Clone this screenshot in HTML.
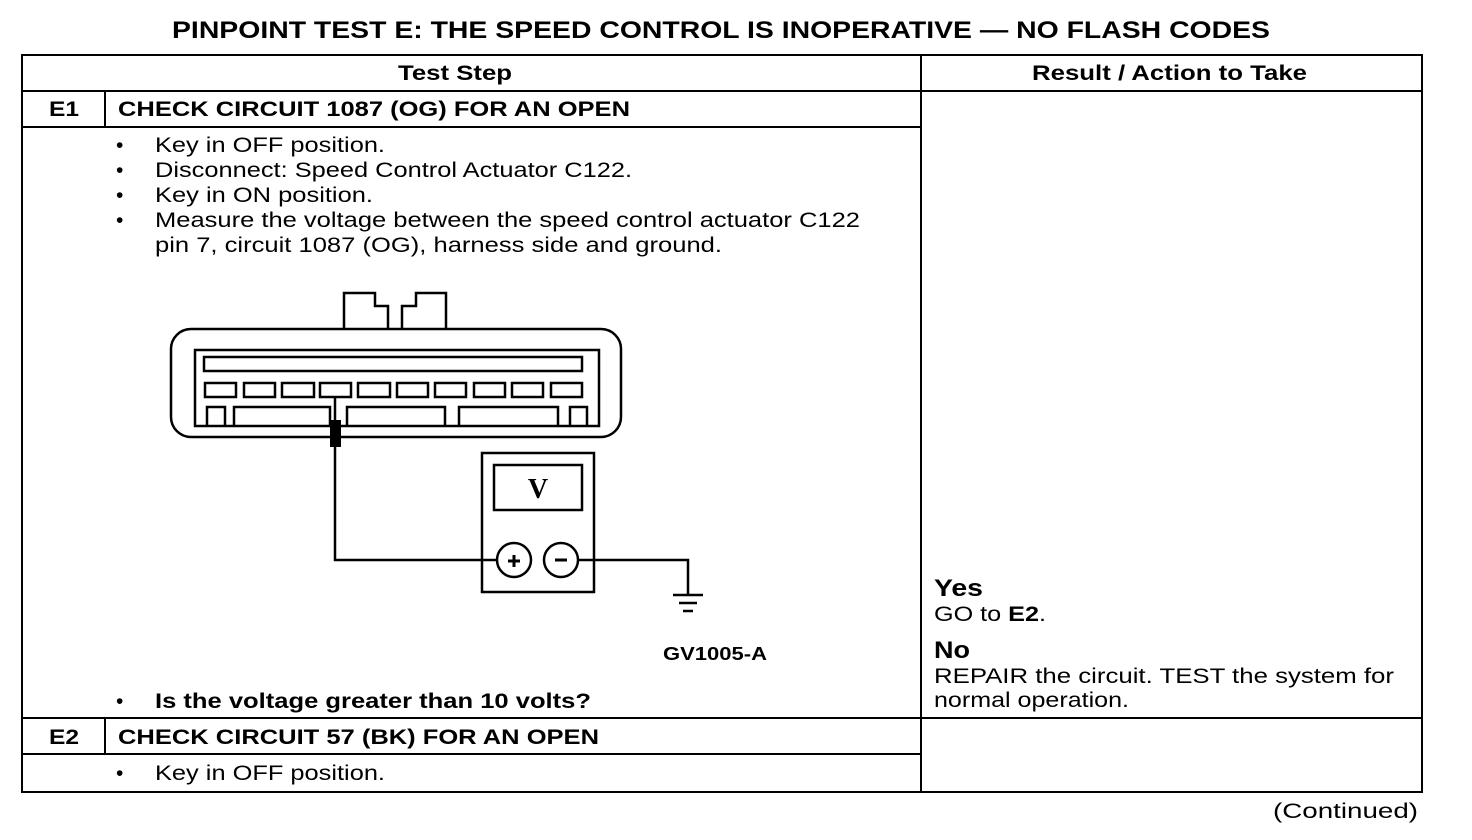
<!DOCTYPE html>
<html><head><style>html,body{margin:0;padding:0;background:#fff}svg{display:block}</style></head>
<body>
<svg width="1472" height="840" viewBox="0 0 1472 840" xmlns="http://www.w3.org/2000/svg" font-family="Liberation Sans, Arial, sans-serif" fill="#000">
<text x="172" y="38" font-size="24" font-weight="bold" textLength="1098" lengthAdjust="spacingAndGlyphs">PINPOINT TEST E: THE SPEED CONTROL IS INOPERATIVE — NO FLASH CODES</text>
<g stroke="#000" stroke-width="2" fill="none">
<rect x="22" y="55" width="1400" height="737"/>
<line x1="22" y1="91" x2="1422" y2="91"/>
<line x1="921" y1="55" x2="921" y2="792"/>
<line x1="22" y1="127" x2="921" y2="127"/>
<line x1="105" y1="91" x2="105" y2="127"/>
<line x1="22" y1="718" x2="1422" y2="718"/>
<line x1="105" y1="718" x2="105" y2="754"/>
<line x1="22" y1="754" x2="921" y2="754"/>
</g>
<g font-size="21" font-weight="bold">
<text x="398" y="80" textLength="114" lengthAdjust="spacingAndGlyphs">Test Step</text>
<text x="1032" y="80" textLength="275" lengthAdjust="spacingAndGlyphs">Result / Action to Take</text>
<text x="49" y="116" textLength="30" lengthAdjust="spacingAndGlyphs">E1</text>
<text x="118" y="116" textLength="512" lengthAdjust="spacingAndGlyphs">CHECK CIRCUIT 1087 (OG) FOR AN OPEN</text>
<text x="49" y="744" textLength="30" lengthAdjust="spacingAndGlyphs">E2</text>
<text x="118" y="744" textLength="481" lengthAdjust="spacingAndGlyphs">CHECK CIRCUIT 57 (BK) FOR AN OPEN</text>
</g>
<g font-size="21">
<text x="116" y="152">•</text><text x="155" y="152" textLength="230" lengthAdjust="spacingAndGlyphs">Key in OFF position.</text>
<text x="116" y="177">•</text><text x="155" y="177" textLength="477" lengthAdjust="spacingAndGlyphs">Disconnect: Speed Control Actuator C122.</text>
<text x="116" y="202">•</text><text x="155" y="202" textLength="218" lengthAdjust="spacingAndGlyphs">Key in ON position.</text>
<text x="116" y="227">•</text><text x="155" y="227" textLength="705" lengthAdjust="spacingAndGlyphs">Measure the voltage between the speed control actuator C122</text>
<text x="155" y="252" textLength="567" lengthAdjust="spacingAndGlyphs">pin 7, circuit 1087 (OG), harness side and ground.</text>
<text x="116" y="708">•</text><text x="155" y="708" font-weight="bold" textLength="436" lengthAdjust="spacingAndGlyphs">Is the voltage greater than 10 volts?</text>
<text x="116" y="780">•</text><text x="155" y="780" textLength="230" lengthAdjust="spacingAndGlyphs">Key in OFF position.</text>
<text x="934" y="621" textLength="112" lengthAdjust="spacingAndGlyphs">GO to <tspan font-weight="bold">E2</tspan>.</text>
<text x="934" y="683" textLength="460" lengthAdjust="spacingAndGlyphs">REPAIR the circuit. TEST the system for</text>
<text x="934" y="707" textLength="195" lengthAdjust="spacingAndGlyphs">normal operation.</text>
<text x="1273" y="818" textLength="145" lengthAdjust="spacingAndGlyphs">(Continued)</text>
</g>
<text x="934" y="596" font-size="24" font-weight="bold" textLength="49" lengthAdjust="spacingAndGlyphs">Yes</text>
<text x="934" y="658" font-size="24" font-weight="bold" textLength="36" lengthAdjust="spacingAndGlyphs">No</text>
<text x="663" y="660" font-size="18" font-weight="bold" textLength="104" lengthAdjust="spacingAndGlyphs">GV1005-A</text>
<g stroke="#000" stroke-width="2.5" fill="none">
<path d="M344,331 V293 H375 V306 H388 V331"/>
<path d="M402,331 V306 H416 V293 H446 V331"/>
<rect x="171" y="329" width="450" height="108" rx="20" fill="#fff"/>
<rect x="195" y="350" width="404" height="76"/>
<rect x="204" y="357" width="378" height="14"/>
<g>
<rect x="205" y="383" width="31" height="14"/><rect x="244" y="383" width="31" height="14"/>
<rect x="282" y="383" width="32" height="14"/><rect x="320" y="383" width="31" height="14"/>
<rect x="358" y="383" width="32" height="14"/><rect x="397" y="383" width="31" height="14"/>
<rect x="435" y="383" width="31" height="14"/><rect x="474" y="383" width="31" height="14"/>
<rect x="512" y="383" width="31" height="14"/><rect x="551" y="383" width="31" height="14"/>
</g>
<path d="M207,426 V407 H225 V426"/>
<path d="M234,426 V407 H330 V426"/>
<path d="M347,426 V407 H445 V426"/>
<path d="M459,426 V407 H558 V426"/>
<path d="M570,426 V407 H587 V426"/>
<line x1="335" y1="397" x2="335" y2="422"/>
<path d="M335,447 V560 H497"/>
<rect x="482" y="453" width="112" height="139"/>
<rect x="494" y="465" width="88" height="45"/>
<circle cx="514" cy="560" r="17"/>
<circle cx="561" cy="560" r="17"/>
<path d="M578,560 H688 V595"/>
<line x1="673" y1="595" x2="703" y2="595"/>
<line x1="679" y1="603" x2="697" y2="603"/>
<line x1="683" y1="611" x2="693" y2="611"/>
</g>
<rect x="330" y="420" width="11" height="27" fill="#000"/>
<text x="538" y="498" font-family="Liberation Serif, serif" font-size="28" font-weight="bold" text-anchor="middle">V</text>
<g stroke="#000" stroke-width="3">
<line x1="508" y1="561" x2="520" y2="561"/><line x1="514" y1="555" x2="514" y2="567"/>
<line x1="555" y1="560" x2="567" y2="560"/>
</g>
</svg>
</body></html>
